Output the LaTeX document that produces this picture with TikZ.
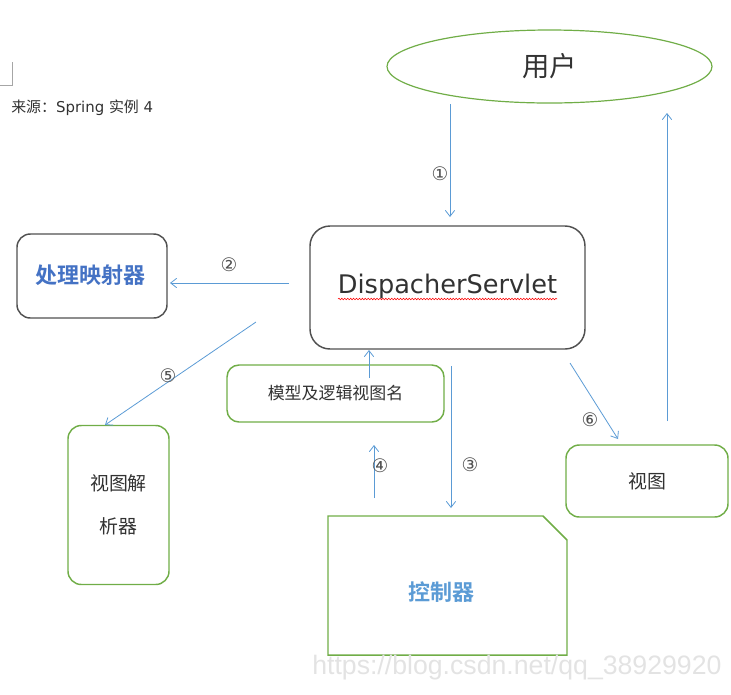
\documentclass[tikz,border=0pt]{standalone}
\usepackage{fontspec}
\setmainfont{DejaVu Sans}
\newfontfamily\cjk{Noto Sans CJK SC}
\newfontfamily\cjkb{Noto Sans CJK SC Bold}
\newfontfamily\wmfont{Liberation Sans}
\usetikzlibrary{arrows.meta,decorations.pathmorphing}
\definecolor{ogreen}{RGB}{112,173,71}
\definecolor{oblue}{RGB}{91,155,213}
\definecolor{dblue}{RGB}{68,114,196}
\definecolor{dgray}{RGB}{80,80,80}
\definecolor{txt}{RGB}{50,50,50}
\tikzset{
  gbox/.style={draw=ogreen,line width=1.1pt,rounded corners=10pt,inner sep=0pt,text=txt},
  kbox/.style={draw=dgray,line width=1.1pt,inner sep=0pt,text=txt},
  arr/.style={draw=oblue,line width=0.6pt,-{Straight Barb[length=4.5pt,width=7pt]}},
  num/.style={text=txt!85,inner sep=0pt,font=\fontsize{14}{16}\selectfont}
}
\begin{document}
\begin{tikzpicture}[x=0.75pt,y=-0.75pt]
\useasboundingbox (0,0) rectangle (731,694);
% corner mark
\draw[gray!70,line width=0.5pt] (12,62) -- (12,85) -- (0,85);
\node[anchor=west,inner sep=0pt,text=txt,font=\fontsize{11.2}{13}\selectfont] (src) at (11,108) {{\cjk 来源：}Spring {\cjk 实例} 4};
% user ellipse
\draw[ogreen,line width=0.9pt] (549.5,66.5) ellipse [x radius=162.5, y radius=36.5];
\node[text=txt,font=\cjk\fontsize{20.5}{24}\selectfont] (user) at (549.5,66) {用户};
% dispatcher
\node[kbox,rounded corners=15pt,minimum width=206.25pt,minimum height=92.25pt] (disp) at (447.5,287.5) {};
\node[text=txt,inner sep=0pt,font=\fontsize{19.2}{22}\selectfont] (dtext) at (447.5,286) {DispacherServlet};
\draw[red,line width=0.4pt,decorate,decoration={snake,amplitude=0.6pt,segment length=2.2pt}] (338,299) -- (557,299);
% handler mapping
\node[kbox,rounded corners=10pt,minimum width=112.5pt,minimum height=63pt] (hmap) at (92,276) {};
\node[text=dblue,font=\cjkb\fontsize{16.5}{20}\selectfont] (htext) at (90,275) {处理映射器};
% model box
\node[gbox,rounded corners=9pt,minimum width=162.75pt,minimum height=42.75pt,font=\cjk\fontsize{12.7}{15}\selectfont] (model) at (335.5,393.5) {模型及逻辑视图名};
% view resolver
\node[gbox,minimum width=75.75pt,minimum height=119.25pt,align=center,font=\cjk\fontsize{14.2}{32}\selectfont] (resolver) at (118.5,505) {视图解\\析器};
% view
\node[gbox,minimum width=121.5pt,minimum height=54pt,font=\cjk\fontsize{14.2}{17}\selectfont] (view) at (647,481) {视图};
% controller
\draw[ogreen,line width=1.1pt] (328,516) -- (543,516) -- (567,540) -- (567,655) -- (328,655) -- cycle;
\node[text=oblue,font=\cjkb\fontsize{16.5}{20}\selectfont] (ctrl) at (441,592) {控制器};
% arrow endpoints
\coordinate (a1s) at (450,104); \coordinate (a1e) at (450,217);
\coordinate (a2s) at (289,283); \coordinate (a2e) at (170,283);
\coordinate (a5s) at (256,322); \coordinate (a5e) at (105,425);
\coordinate (ams) at (369,378); \coordinate (ame) at (369,350);
\coordinate (a4s) at (374,498); \coordinate (a4e) at (374,445);
\coordinate (a3s) at (451,366); \coordinate (a3e) at (451,508);
\coordinate (a6s) at (570,363); \coordinate (a6e) at (618,439);
\coordinate (a7s) at (667,421); \coordinate (a7e) at (667,113);
\draw[arr] (a1s) -- (a1e);
\draw[arr] (a2s) -- (a2e);
\draw[arr] (a5s) -- (a5e);
\draw[arr] (ams) -- (ame);
\draw[arr] (a4s) -- (a4e);
\draw[arr] (a3s) -- (a3e);
\draw[arr] (a6s) -- (a6e);
\draw[arr] (a7s) -- (a7e);
% numbers
\node[num] (n1) at (440,174) {①};
\node[num] (n2) at (229,265) {②};
\node[num] (n3) at (470,465) {③};
\node[num] (n4) at (380,466) {④};
\node[num] (n5) at (168,376) {⑤};
\node[num] (n6) at (590,420) {⑥};
% watermark
\node[anchor=west,inner sep=0pt,text=gray!22,font=\wmfont\fontsize{20}{24}\selectfont] (wm) at (312,668) {https://blog.csdn.net/qq\_38929920};
\end{tikzpicture}
\end{document}
